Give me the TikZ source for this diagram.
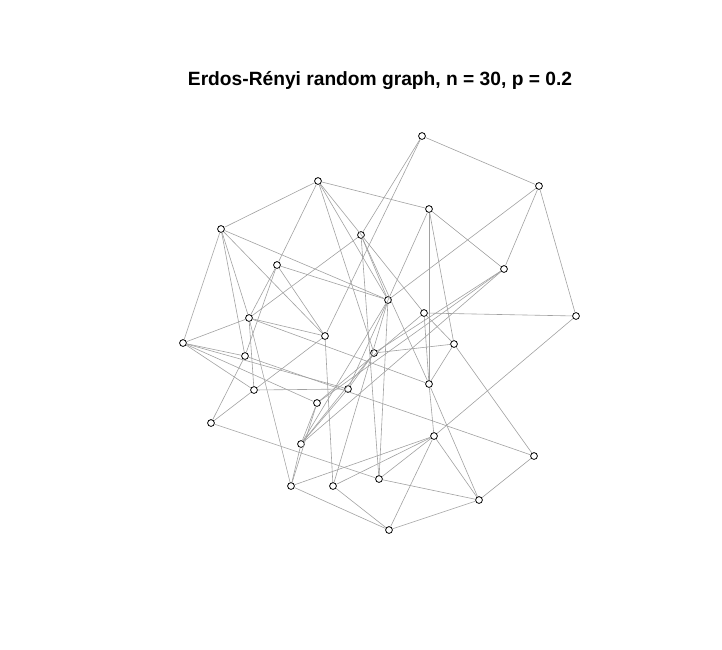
\documentclass[tikz,border=0pt]{standalone}
\usepackage{fontspec}
\setmainfont{Liberation Sans}
\usepackage{tikz}

\tikzset{
  vtx/.style={circle, draw=black, fill=white, line width=0.8pt, inner sep=0pt, minimum size=6.8pt},
  edg/.style={draw=black!37, line width=0.6pt}
}

\begin{document}
\begin{tikzpicture}[x=1pt, y=-1pt]
\useasboundingbox (0,0) rectangle (722,649);
\node[font=\bfseries\fontsize{19.2}{21}\selectfont] (title) at (380,80) {Erdos-Rényi random graph, n = 30, p = 0.2};
%
\foreach \i/\x/\y in {1/422/136, 2/539/186, 3/318/181, 4/429/209, 5/221/229,
  6/361/235, 7/277/265, 8/504/269, 9/388/300, 10/576/316,
  11/424/313, 12/249/318, 13/325/336, 14/183/343, 15/454/344,
  16/374/353, 17/245/356, 18/429/384, 19/348/389, 20/254/390,
  21/317/403, 22/211/423, 23/434/436, 24/301/444, 25/534/456,
  26/379/479, 27/291/486, 28/333/486, 29/479/500, 30/389/530}
  \node[vtx] (v\i) at (\x,\y) {};
%
\foreach \a/\b in {1/2, 1/6, 1/13, 2/8, 2/9, 2/10,
  3/4, 3/5, 3/7, 3/9, 3/16, 3/11, 4/8, 4/15, 4/18, 4/19,
  5/12, 5/14, 5/17, 5/9, 5/13, 6/9, 6/18, 6/26, 6/12,
  7/12, 7/17, 7/13, 7/9, 8/16, 8/21, 8/24, 9/26, 9/24, 9/28,
  10/11, 10/23, 11/18, 11/21, 11/15,
  12/13, 12/18, 12/20, 12/27, 12/14, 13/28, 13/20,
  14/17, 14/19, 14/20, 14/21, 15/16, 15/18, 15/25,
  16/24, 16/19, 17/22, 17/25, 18/23, 18/29, 19/20, 19/24,
  20/22, 21/27, 21/24, 22/26,
  23/27, 23/28, 23/26, 23/29, 23/30, 24/27,
  25/29, 26/29, 27/30, 28/30, 29/30}
  \draw[edg] (v\a) -- (v\b);
\end{tikzpicture}
\end{document}
